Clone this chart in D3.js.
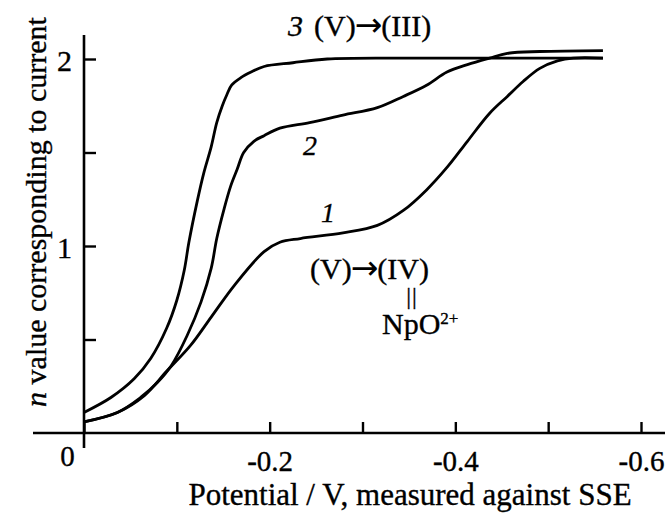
<!DOCTYPE html>
<html>
<head>
<meta charset="utf-8">
<script src="https://cdn.jsdelivr.net/npm/d3@7"></script>
<style>
  body { margin: 0; background: #fff; }
  svg { display: block; }
  text { font-family: 'Liberation Serif', 'Times New Roman', Times, serif; fill: #000; stroke: #000; stroke-width: 0.35px; }
</style>
</head>
<body>
<svg id="chart" width="665" height="515"></svg>
<script>
// potential (V vs SSE) and n values
var curve1E = [0, -0.036, -0.065, -0.089, -0.115, -0.137, -0.162, -0.194, -0.211, -0.233, -0.279,
    -0.316, -0.344, -0.369, -0.391, -0.413, -0.437, -0.456, -0.473, -0.491, -0.510, -0.527, -0.559];
var curve1N = [0.06, 0.11, 0.20, 0.33, 0.47, 0.62, 0.79, 0.97, 1.02, 1.04, 1.07,
    1.11, 1.19, 1.30, 1.42, 1.56, 1.71, 1.80, 1.88, 1.95, 1.99, 2.005, 2.005];

var curve2E = [0, -0.036, -0.061, -0.079, -0.094, -0.111, -0.126, -0.137, -0.143, -0.151, -0.158,
    -0.165, -0.172, -0.183, -0.194, -0.211, -0.243, -0.279, -0.316, -0.344, -0.369, -0.391,
    -0.413, -0.437, -0.456, -0.491, -0.559];
var curve2N = [0.06, 0.11, 0.19, 0.27, 0.36, 0.52, 0.70, 0.88, 1.04, 1.20, 1.32,
    1.41, 1.50, 1.56, 1.59, 1.63, 1.66, 1.70, 1.74, 1.80, 1.86, 1.93,
    1.97, 2.005, 2.03, 2.04, 2.045];

var curve3E = [0, -0.029, -0.054, -0.072, -0.089, -0.100, -0.108, -0.113, -0.122, -0.129, -0.137,
    -0.143, -0.149, -0.154, -0.159, -0.169, -0.180, -0.194, -0.225, -0.262, -0.333, -0.405,
    -0.477, -0.559];
var curve3N = [0.11, 0.19, 0.29, 0.40, 0.56, 0.71, 0.87, 1.02, 1.24, 1.39, 1.53,
    1.66, 1.75, 1.81, 1.86, 1.90, 1.93, 1.96, 1.98, 2.00, 2.005, 2.005,
    2.005, 2.005];

var xTicks = [0, -0.1, -0.2, -0.3, -0.4, -0.5, -0.6];
var xTickLabels = ["0", "", "-0.2", "", "-0.4", "", "-0.6"];
var yTicks = [0.5, 1, 1.5, 2];
var yTickLabels = ["", "1", "", "2"];

var svg = d3.select("#chart");

var x = d3.scaleLinear().domain([0, -0.6]).range([84, 641]);
var y = d3.scaleLinear().domain([0, 2]).range([433, 59]);

// axis lines (they run past the tick range like in the figure)
svg.append("line")
    .attr("x1", 33).attr("x2", 665)
    .attr("y1", y(0)).attr("y2", y(0))
    .attr("stroke", "#000").attr("stroke-width", 2.6);
svg.append("line")
    .attr("x1", x(0)).attr("x2", x(0))
    .attr("y1", 35).attr("y2", 448)
    .attr("stroke", "#000").attr("stroke-width", 2.6);

// x axis, ticks pointing up
var xAxis = svg.append("g")
    .attr("transform", "translate(0," + y(0) + ")")
    .call(d3.axisBottom(x)
        .tickValues(xTicks)
        .tickSize(-11)
        .tickSizeOuter(0)
        .tickPadding(17)
        .tickFormat(function (d, i) { return xTickLabels[i]; }));
xAxis.select(".domain").remove();
xAxis.selectAll(".tick line").attr("stroke", "#000").attr("stroke-width", 2.4);
xAxis.selectAll(".tick text")
    .attr("font-size", 29)
    .attr("fill", "#000");
// the zero sits to the left of the y axis
xAxis.selectAll(".tick text").filter(function (d) { return d === 0; })
    .attr("x", -17).attr("y", 12);

// y axis, ticks pointing right
var yAxis = svg.append("g")
    .attr("transform", "translate(" + x(0) + ",0)")
    .call(d3.axisLeft(y)
        .tickValues(yTicks)
        .tickSize(-12)
        .tickSizeOuter(0)
        .tickPadding(12)
        .tickFormat(function (d, i) { return yTickLabels[i]; }));
yAxis.select(".domain").remove();
yAxis.selectAll(".tick line").attr("stroke", "#000").attr("stroke-width", 2.4);
yAxis.selectAll(".tick text")
    .attr("font-size", 30)
    .attr("dy", "0.38em")
    .attr("fill", "#000");

// curves
var line = d3.line()
    .x(function (d) { return x(d[0]); })
    .y(function (d) { return y(d[1]); })
    .curve(d3.curveCatmullRom.alpha(0.5));

[[curve1E, curve1N], [curve2E, curve2N], [curve3E, curve3N]].forEach(function (c) {
    svg.append("path")
        .datum(d3.zip(c[0], c[1]))
        .attr("d", line)
        .attr("fill", "none")
        .attr("stroke", "#000")
        .attr("stroke-width", 2.8)
        .attr("stroke-linejoin", "round");
});

// axis titles
svg.append("text")
    .attr("x", 410).attr("y", 505)
    .attr("text-anchor", "middle")
    .attr("font-size", 31)
    .text("Potential / V, measured against SSE");

var yTitle = svg.append("text")
    .attr("transform", "translate(46,212) rotate(-90)")
    .attr("text-anchor", "middle")
    .attr("font-size", 30);
yTitle.append("tspan").attr("font-style", "italic").text("n");
yTitle.append("tspan").text(" value corresponding to current");

// annotations
function arrowLabel(x0, y0, left, right) {
    var t = svg.append("text").attr("x", x0).attr("y", y0).attr("font-size", 30);
    t.append("tspan").text(left);
    t.append("tspan").attr("dx", -1)
        .style("font-family", "'DejaVu Sans', sans-serif")
        .style("stroke-width", "0px")
        .attr("font-size", 33).text("\u2192");
    t.append("tspan").attr("dx", -1).text(right);
    return t;
}

svg.append("text").attr("x", 288).attr("y", 36)
    .attr("font-size", 30).attr("font-style", "italic").text("3");
arrowLabel(314, 36, "(V)", "(III)");

svg.append("text").attr("x", 303).attr("y", 155)
    .attr("font-size", 28).attr("font-style", "italic").text("2");
svg.append("text").attr("x", 321).attr("y", 222)
    .attr("font-size", 28).attr("font-style", "italic").text("1");

arrowLabel(310, 279, "(V)", "(IV)");
svg.append("text").attr("x", 412).attr("y", 304)
    .attr("text-anchor", "middle")
    .attr("letter-spacing", 1)
    .attr("font-size", 24).text("||");
var npo = svg.append("text").attr("x", 382).attr("y", 334)
    .attr("font-size", 30);
npo.append("tspan").text("NpO");
npo.append("tspan").attr("font-size", 17).attr("dy", -10).text("2+");
</script>
</body>
</html>
